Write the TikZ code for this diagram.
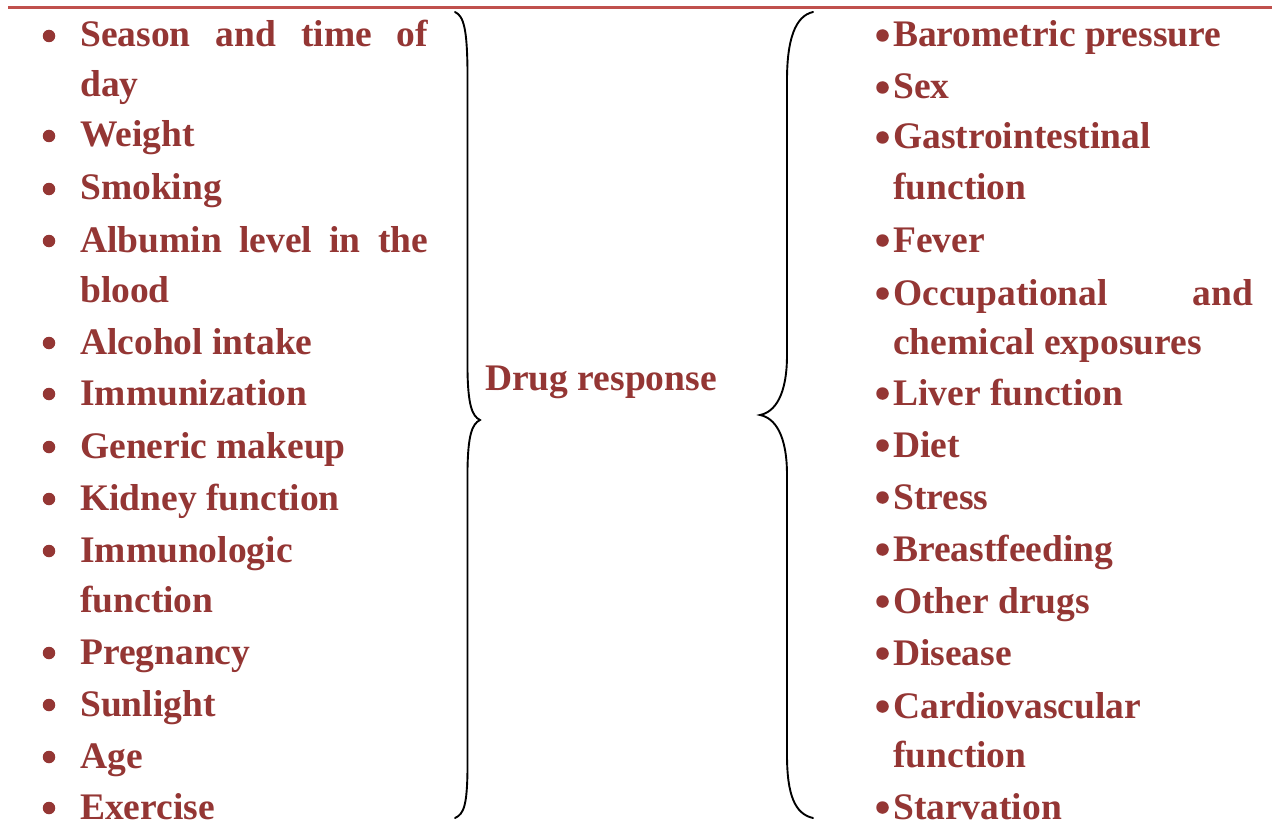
\documentclass[tikz,border=0pt]{standalone}
\usepackage{fontspec}
\setmainfont{Liberation Serif}
\definecolor{txtred}{HTML}{943634}
\definecolor{rulered}{HTML}{C0504D}
\begin{document}
\begin{tikzpicture}[x=1pt,y=-1pt,
  item/.style={anchor=base west,inner sep=0pt,text=txtred,font=\fontsize{37.5}{44}\selectfont\bfseries},
  dot/.style={circle,fill=txtred,inner sep=0pt,minimum size=12.5pt},
  brace/.style={draw=black,line width=1.9pt,line cap=round}]
\useasboundingbox (0,0) rectangle (1272,832);
\fill[white] (0,0) rectangle (1272,832);
% top rule
\draw[rulered,line width=3pt] (8,8) -- (1272,8);
% left column
\node[dot] (lb1) at (49,36) {};
\node[item] (l1) at (80,47) {\makebox[348pt][s]{Season and time of}};
\node[item] (l2) at (80,97) {day};
\node[dot] (lb3) at (49,136) {};
\node[item] (l3) at (80,147) {Weight};
\node[dot] (lb4) at (49,189) {};
\node[item] (l4) at (80,200) {Smoking};
\node[dot] (lb5) at (49,241) {};
\node[item] (l5) at (80,252) {\makebox[348pt][s]{Albumin level in the}};
\node[item] (l6) at (80,302) {blood};
\node[dot] (lb7) at (49,343) {};
\node[item] (l7) at (80,354) {Alcohol intake};
\node[dot] (lb8) at (49,394) {};
\node[item] (l8) at (80,405) {Immunization};
\node[dot] (lb9) at (49,447) {};
\node[item] (l9) at (80,458) {Generic makeup};
\node[dot] (lb10) at (49,499) {};
\node[item] (l10) at (80,510) {Kidney function};
\node[dot] (lb11) at (49,551) {};
\node[item] (l11) at (80,562) {Immunologic};
\node[item] (l12) at (80,612) {function};
\node[dot] (lb13) at (49,653) {};
\node[item] (l13) at (80,664) {Pregnancy};
\node[dot] (lb14) at (49,705) {};
\node[item] (l14) at (80,716) {Sunlight};
\node[dot] (lb15) at (49,757) {};
\node[item] (l15) at (80,768) {Age};
\node[dot] (lb16) at (49,808) {};
\node[item] (l16) at (80,819) {Exercise};
% centre
\node[item] (drug) at (485,390) {Drug response};
% left brace  }
\draw[brace] (455,12) .. controls (464,16) and (467,30) .. (467.5,70)
  -- (467.5,370) .. controls (468,405) and (472,416) .. (480,420)
  .. controls (472,424) and (468,435) .. (467.5,470)
  -- (467.5,770) .. controls (467,805) and (464,814) .. (455,818);
% right brace {
\draw[brace] (813,12) .. controls (795,16) and (787,40) .. (787,80)
  -- (787,355) .. controls (787,395) and (775,412) .. (760,415)
  .. controls (775,418) and (787,435) .. (787,475)
  -- (787,755) .. controls (787,795) and (795,814) .. (813,818);
% right column
\node[dot] (rb1) at (882.5,35.5) {};
\node[item] (r1) at (893,47) {Barometric pressure};
\node[dot] (rb2) at (882.5,87.5) {};
\node[item] (r2) at (893,99) {Sex};
\node[dot] (rb3) at (882.5,137.5) {};
\node[item] (r3) at (893,149) {Gastrointestinal};
\node[item] (r4) at (893,200) {function};
\node[dot] (rb5) at (882.5,240.5) {};
\node[item] (r5) at (893,252) {Fever};
\node[dot] (rb6) at (882.5,293.5) {};
\node[item] (r6) at (893,305) {\makebox[360pt][s]{Occupational and}};
\node[item] (r7) at (893,354) {chemical exposures};
\node[dot] (rb8) at (882.5,393.5) {};
\node[item] (r8) at (893,405) {Liver function};
\node[dot] (rb9) at (882.5,445.5) {};
\node[item] (r9) at (893,457) {Diet};
\node[dot] (rb10) at (882.5,497.5) {};
\node[item] (r10) at (893,509) {Stress};
\node[dot] (rb11) at (882.5,549.5) {};
\node[item] (r11) at (893,561) {Breastfeeding};
\node[dot] (rb12) at (882.5,601.5) {};
\node[item] (r12) at (893,613) {Other drugs};
\node[dot] (rb13) at (882.5,653.5) {};
\node[item] (r13) at (893,665) {Disease};
\node[dot] (rb14) at (882.5,706.5) {};
\node[item] (r14) at (893,718) {Cardiovascular};
\node[item] (r15) at (893,767) {function};
\node[dot] (rb16) at (882.5,807.5) {};
\node[item] (r16) at (893,819) {Starvation};
\end{tikzpicture}
\end{document}
